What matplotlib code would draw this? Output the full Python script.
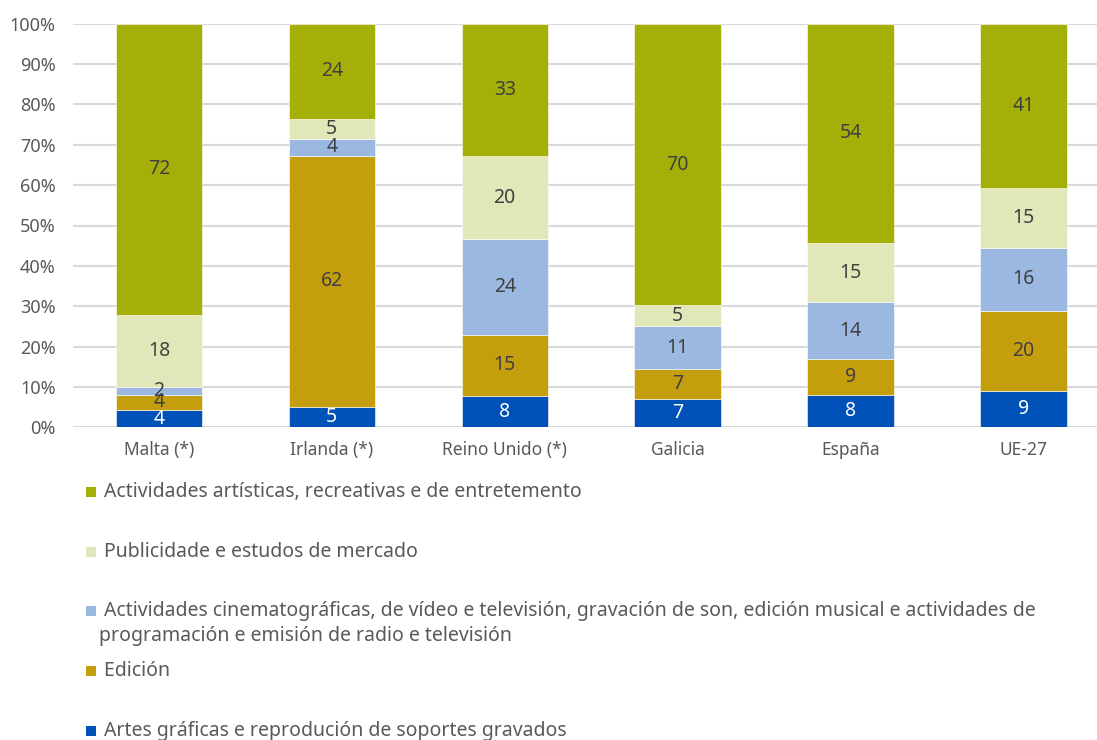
import matplotlib
matplotlib.use("Agg")
import matplotlib.pyplot as plt
from matplotlib.patches import Rectangle
import numpy as np

plt.rcParams['font.family'] = ['Noto Sans', 'DejaVu Sans']

categories = ["Malta (*)", "Irlanda (*)", "Reino Unido (*)", "Galicia", "España", "UE-27"]

artes = [4.2, 5.1, 7.8, 7.0, 8.1, 9.1]
edicion = [3.9, 62.2, 15.1, 7.4, 8.8, 19.8]
cine = [1.9, 4.1, 23.8, 10.6, 14.1, 15.5]
publicidade = [17.8, 5.0, 20.4, 5.2, 14.6, 15.0]
artisticas = [72.2, 23.6, 32.9, 69.8, 54.4, 40.6]

series_names = [
    "Artes gráficas e reprodución de soportes gravados",
    "Edición",
    "Actividades cinematográficas, de vídeo e televisión, gravación de son, edición musical e actividades de\nprogramación e emisión de radio e televisión",
    "Publicidade e estudos de mercado",
    "Actividades artísticas, recreativas e de entretemento",
]
series = [artes, edicion, cine, publicidade, artisticas]
colors = ["#0052B8", "#C59E0E", "#9BB9E0", "#E2E7B9", "#A4B008"]
label_colors = ["white", "#404040", "#404040", "#404040", "#404040"]

W, H = 1097, 740
fig = plt.figure(figsize=(W / 100, H / 100), dpi=100)

def fx(px):
    return px / W

def fy(py):
    return 1 - py / H

ax_left, ax_right, ax_top, ax_bottom = 72.5, 1109.9, 23.7, 427.3
ax = fig.add_axes([fx(ax_left), fy(ax_bottom), fx(ax_right - ax_left), (ax_bottom - ax_top) / H])

x = np.arange(len(categories))
bottom = np.zeros(len(categories))
for vals, col, lc in zip(series, colors, label_colors):
    vals = np.array(vals)
    ax.bar(x, vals, width=0.5, bottom=bottom, color=col, edgecolor="white", linewidth=0.4, zorder=3)
    for xi, b, v in zip(x, bottom, vals):
        ax.text(xi, b + v / 2, f"{v:.0f}", ha="center", va="center", fontsize=14, color=lc, zorder=4)
    bottom = bottom + vals

ax.set_xlim(-0.5, len(categories) - 0.5)
ax.set_ylim(0, 100)
ax.set_yticks(np.arange(0, 101, 10))
ax.set_yticklabels([f"{v}%" for v in range(0, 101, 10)])
ax.set_xticks(x)
ax.set_xticklabels(categories)
ax.tick_params(axis="y", length=0, pad=12, labelsize=13, labelcolor="#595959")
ax.tick_params(axis="x", length=0, pad=10, labelsize=12.5, labelcolor="#595959")
ax.grid(axis="y", color="#D9D9D9", linewidth=1.5, zorder=0)
for s in ax.spines.values():
    s.set_visible(False)

# Legend (manual, top to bottom)
legend_rows = [(4, 492), (3, 552), (2, 611), (1, 671), (0, 731)]
for idx, py in legend_rows:
    fig.add_artist(Rectangle((fx(86), fy(py + 5)), fx(10), 10 / H,
                             transform=fig.transFigure, facecolor=colors[idx], edgecolor="none"))
    fig.text(fx(99), fy(py), " " + series_names[idx], ha="left", va="center" if idx != 2 else "top",
             fontsize=14, color="#595959", linespacing=1.25) if idx != 2 else None

# two-line entry
fig.text(fx(99), fy(611), " " + series_names[2].split("\n")[0], ha="left", va="center",
         fontsize=14, color="#595959")
fig.text(fx(99), fy(636), series_names[2].split("\n")[1], ha="left", va="center",
         fontsize=14, color="#595959")

fig.savefig("out.png", dpi=100)
